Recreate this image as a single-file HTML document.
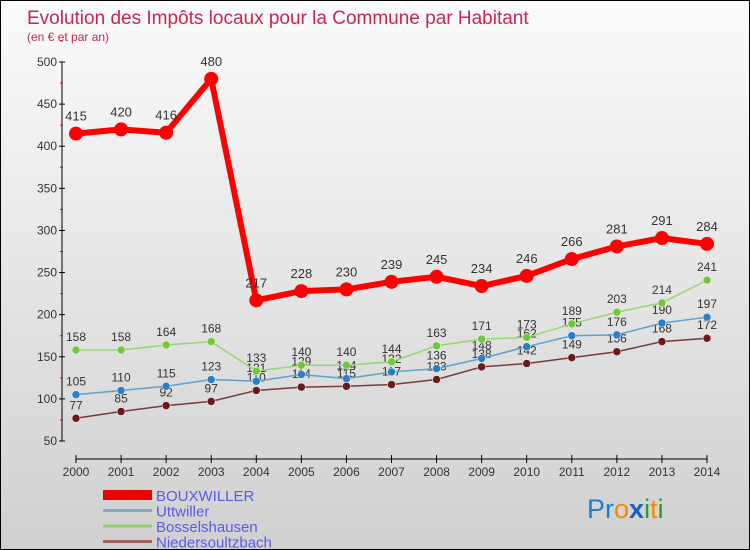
<!DOCTYPE html>
<html><head><meta charset="utf-8"><style>
body{margin:0;}
#wrap{position:relative;width:750px;height:550px;overflow:hidden;box-sizing:border-box;border:1px solid #000;background:linear-gradient(#fbfbfb,#d0d0d0);font-family:"Liberation Sans",sans-serif;}
svg{position:absolute;left:0;top:0;}
</style></head><body>
<div id="wrap">
<svg id="c" width="750" height="550">
<text x="26" y="23" font-size="19" fill="#c8264f">Evolution des Impôts locaux pour la Commune par Habitant</text>
<text x="26" y="40" font-size="12" fill="#c8264f">(en € et par an)</text>
<text x="586" y="517" font-size="27" font-family="Liberation Sans,sans-serif"><tspan fill="#1a7fd0">Pr</tspan><tspan fill="#f08a00">o</tspan><tspan fill="#1a5fc0" font-weight="bold">x</tspan><tspan fill="#2a9a2a">i</tspan><tspan fill="#f08a00">t</tspan><tspan fill="#2a9a2a">i</tspan></text>
</svg>
</div>
<script>
const years=[2000,2001,2002,2003,2004,2005,2006,2007,2008,2009,2010,2011,2012,2013,2014];
const yTicks=[50,100,150,200,250,300,350,400,450,500];
const bouxwiller=[415,420,416,480,217,228,230,239,245,234,246,266,281,291,284];
const uttwiller=[105,110,115,123,121,129,124,132,136,148,162,175,176,190,197];
const bosselshausen=[158,158,164,168,133,140,140,144,163,171,173,189,203,214,241];
const niedersoultzbach=[77,85,92,97,110,114,115,117,123,138,142,149,156,168,172];
const names=["BOUXWILLER","Uttwiller","Bosselshausen","Niedersoultzbach"];

const NS="http://www.w3.org/2000/svg";
const svg=document.getElementById('c');
const X=i=>75+i*(706-75)/(years.length-1);
const Y=v=>440-(v-50)*(440-61)/450;
function mk(t,a){const e=document.createElementNS(NS,t);for(const k in a)e.setAttribute(k,a[k]);svg.appendChild(e);return e;}

// y axis
let ax=mk('line',{x1:61,y1:Y(500),x2:61,y2:Y(50),stroke:'#000'});


yTicks.forEach(v=>{
  let t=mk('line',{x1:58,y1:Y(v),x2:64,y2:Y(v),stroke:'#000'});
  
  
  let m=mk('line',{x1:59,y1:Y(v+25),x2:62,y2:Y(v+25),stroke:'#d00'});
  
  
  let l=mk('text',{x:56,y:Y(v)+4,'font-size':12,fill:'#333','text-anchor':'end'});
  l.textContent=v;
  
  
});
// x axis
let xa=mk('line',{x1:X(0),y1:458,x2:X(14),y2:458,stroke:'#000'});


years.forEach((yr,i)=>{
  let t=mk('line',{x1:X(i),y1:454,x2:X(i),y2:462,stroke:'#000'});
  
  
  let l=mk('text',{x:X(i),y:475,'font-size':12,fill:'#333','text-anchor':'middle'});
  l.textContent=yr;
  
  
});

function series(data,color,w,r,dot,key,big){
  const pts=data.map((v,i)=>X(i)+','+Y(v)).join(' ');
  let p=mk('polyline',{points:pts,fill:'none',stroke:color,'stroke-width':w});
  
  
  data.forEach((v,i)=>{
    let c=mk('circle',{cx:X(i),cy:Y(v),r:r,fill:dot,stroke:big?'none':'#fff','stroke-width':0.5});
    
    
    let l=mk('text',{x:X(i),y:Y(v)-(big?13:9),'font-size':big?13:12,fill:'#333','text-anchor':'middle'});
    l.textContent=v;
    
    
  });
}
series(niedersoultzbach,'#7a3a3a',1.5,4,'#6a1a1a','niedersoultzbach');
series(uttwiller,'#5aa0d0',1.5,4,'#2a80c8','uttwiller');
series(bosselshausen,'#90d870',1.5,4,'#70c838','bosselshausen');
series(bouxwiller,'#f00',6,7,'#f00','bouxwiller',true);

const lc=['#e00','#7aaad0','#90d070','#a06060'],lw=[10,3,3,3];
names.forEach((n,i)=>{
  const y=494+i*15.5;
  let l=mk('line',{x1:102,y1:y,x2:151,y2:y,stroke:lc[i],'stroke-width':lw[i]});
  
  
  let t=mk('text',{x:155,y:y+6,'font-size':15,fill:'#5a5ae8'});
  t.textContent=n;
  
  
});
</script>
</body></html>
